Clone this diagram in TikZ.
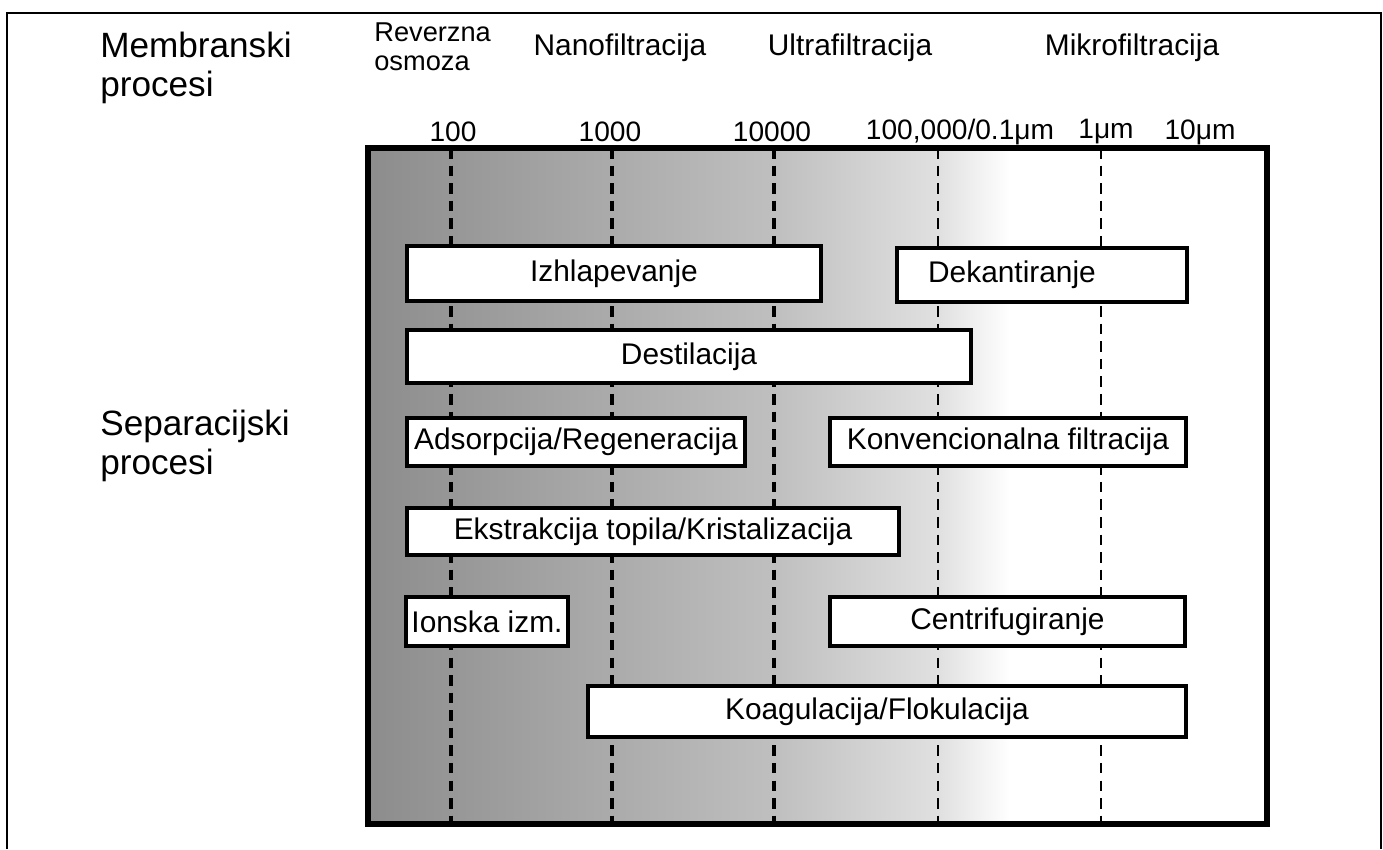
\documentclass[tikz,border=0pt]{standalone}
\usepackage{fontspec}
\setmainfont{Liberation Sans}
\usetikzlibrary{fit}
\tikzset{procbox/.style={draw, line width=2.4pt, fill=white, inner sep=0pt},
 proctext/.style={font=\fontsize{17}{19}\selectfont, inner sep=0pt},
 sizeline/.style={line width=2pt, dash pattern=on 6pt off 4pt},
 grouplabel/.style={align=left, anchor=north west, inner sep=0pt,
   font=\fontsize{20}{22}\selectfont},
 memlabel/.style={inner sep=0pt, font=\fontsize{17}{18}\selectfont},
 sizelabel/.style={inner sep=0pt, font=\fontsize{16}{18}\selectfont},
 }

\begin{document}
\begin{tikzpicture}[x=0.02cm, y=-0.02cm]
    \useasboundingbox (0,0) rectangle (1383,849);
    \draw[line width=0.8pt] (7,849) -- (7,13) -- (1381,13) -- (1381,849);
    \shade[left color=black!45, right color=black!33] (368,148) rectangle (612,824);
    \shade[left color=black!33, right color=black!25] (612,148) rectangle (775,824);
    \shade[left color=black!25, right color=black!12] (775,148) rectangle (940,824);
    \shade[left color=black!12, right color=white] (940,148) rectangle (1010,824);
    \coordinate (t100) at (451,148);
    \coordinate (t1k) at (612,148);
    \coordinate (t10k) at (774,148);
    \coordinate (t100k) at (938,148);
    \coordinate (t1um) at (1101,148);
    \coordinate (b100) at (451,824);
    \coordinate (b1k) at (612,824);
    \coordinate (b10k) at (774,824);
    \coordinate (b100k) at (938,824);
    \coordinate (b1um) at (1101,824);
    \draw[sizeline] (t100) -- (b100);
    \draw[sizeline] (t1k) -- (b1k);
    \draw[sizeline] (t10k) -- (b10k);
    \draw[sizeline, line width=1.6pt] (t100k) -- (b100k);
    \draw[sizeline, line width=1.4pt] (t1um) -- (b1um);
    \draw[line width=3pt] (368,148) rectangle (1267,824);
    \node[grouplabel] (memb) at (100,32) {Membranski\\procesi};
    \node[grouplabel] (sep) at (100,410) {Separacijski\\procesi};
    \node[inner sep=0pt, align=left, anchor=north west,
      font=\fontsize{15.5}{17}\selectfont] (ro) at (374,22) {Reverzna\\osmoza};
    \node[memlabel] (nf) at (620,48) {Nanofiltracija};
    \node[memlabel] (uf) at (850,48) {Ultrafiltracija};
    \node[memlabel] (mf) at (1132,48) {Mikrofiltracija};
    \node[sizelabel] (s100) at (453,132) {100};
    \node[sizelabel] (s1k) at (610,132) {1000};
    \node[sizelabel] (s10k) at (772,132) {10000};
    \node[sizelabel] (s100k) at (960,132) {100,000/0.1μm};
    \node[sizelabel] (s1um) at (1106,132) {1μm};
    \node[sizelabel] (s10um) at (1200,132) {10μm};
    \node[procbox, fit={(407,246) (821,301)}] (izh) {};
    \node[procbox, fit={(897,248) (1187,302)}] (dek) {};
    \node[procbox, fit={(407,330) (971,383)}] (des) {};
    \node[procbox, fit={(407,418) (745,466)}] (ads) {};
    \node[procbox, fit={(830,418) (1186,466)}] (konv) {};
    \node[procbox, fit={(407,508) (899,555)}] (ekst) {};
    \node[procbox, fit={(406,597) (568,646)}] (ion) {};
    \node[procbox, fit={(830,597) (1185,646)}] (cent) {};
    \node[procbox, fit={(588,686) (1186,737)}] (koag) {};
    \node[proctext] at (izh) {Izhlapevanje};
    \node[proctext, xshift=-0.6cm] at (dek) {Dekantiranje};
    \node[proctext] at (des) {Destilacija};
    \node[proctext] at (ads) {Adsorpcija/Regeneracija};
    \node[proctext] at (konv) {Konvencionalna filtracija};
    \node[proctext] at (ekst) {Ekstrakcija topila/Kristalizacija};
    \node[proctext] at (ion) {Ionska izm.};
    \node[proctext] at (cent) {Centrifugiranje};
    \node[proctext, xshift=-0.2cm] at (koag) {Koagulacija/Flokulacija};
    \end{tikzpicture}
\end{document}
